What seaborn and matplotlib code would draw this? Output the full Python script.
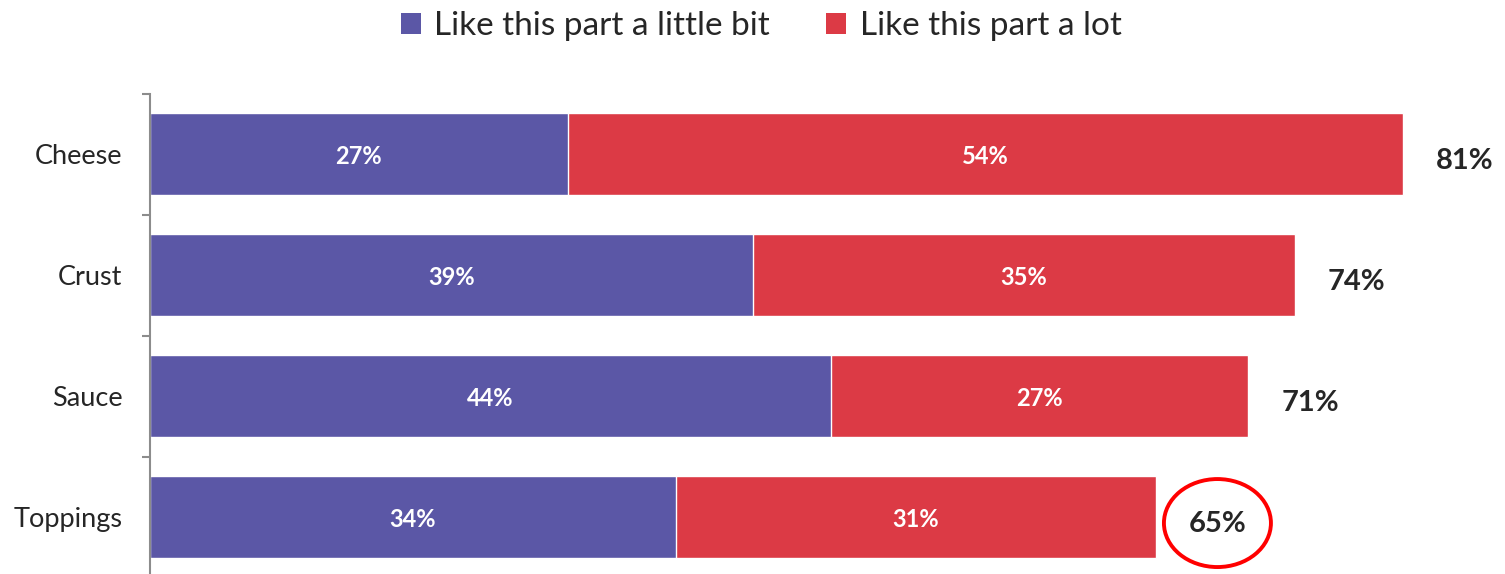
import matplotlib
matplotlib.use("Agg")
import matplotlib.pyplot as plt
from matplotlib.patches import Ellipse, Patch
import seaborn as sns
import pandas as pd

categories = ["Cheese", "Crust", "Sauce", "Toppings"]
little_bit = [27, 39, 44, 34]
a_lot = [54, 35, 27, 31]
totals = [81, 74, 71, 65]
series_names = ["Like this part a little bit", "Like this part a lot"]
highlight = "Toppings"

PURPLE = "#5B57A6"
RED = "#DC3A45"
TEXT = "#262626"

sns.set_theme(style="white")
plt.rcParams["font.family"] = ["Lato", "DejaVu Sans"]

df = pd.DataFrame({"category": categories, "little": little_bit,
                   "lot": a_lot, "total": totals})

fig = plt.figure(figsize=(15.05, 5.74), dpi=100)
ax = fig.add_axes([150 / 1505, -3.5 / 574, 1355 / 1505, 484 / 574])

# stacked bars: full total in red, "little bit" share drawn over it in purple
sns.barplot(data=df, x="total", y="category", order=categories, color=RED,
            saturation=1, width=0.67, orient="h", ax=ax)
sns.barplot(data=df, x="little", y="category", order=categories, color=PURPLE,
            saturation=1, width=0.67, orient="h", ax=ax)

ax.set_xlim(0, 1355 / 15.47)
ax.set_ylim(3.5, -0.5)
ax.set_xlabel("")
ax.set_ylabel("")
ax.set_xticks([])

for s in ["top", "right", "bottom"]:
    ax.spines[s].set_visible(False)
ax.spines["left"].set_color("#8C8C8C")
ax.spines["left"].set_linewidth(1.5)

ax.set_yticks(range(len(categories)))
ax.set_yticklabels(categories, fontsize=19.5, color=TEXT)
ax.tick_params(axis="y", which="major", length=0, pad=20)
ax.set_yticks([i - 0.5 for i in range(len(categories) + 1)], minor=True)
ax.tick_params(axis="y", which="minor", length=6, width=1.5,
               color="#8C8C8C", left=True)

for i, cat in enumerate(categories):
    lb, lt, tot = little_bit[i], a_lot[i], totals[i]
    ax.text(lb / 2, i + 0.02, f"{lb}%", ha="center", va="center", color="white",
            fontsize=17, fontweight="bold")
    ax.text(lb + lt / 2, i + 0.02, f"{lt}%", ha="center", va="center", color="white",
            fontsize=17, fontweight="bold")
    ax.text(tot + 4, i + 0.06, f"{tot}%", ha="center", va="center",
            color=TEXT, fontsize=21, fontweight="bold")
    if cat == highlight:
        ax.add_patch(Ellipse((tot + 4, i + 0.05), width=107 / 15.47,
                             height=88 / 121, fill=False, edgecolor="#FF0000",
                             linewidth=2.8, clip_on=False))

handles = [Patch(facecolor=PURPLE, edgecolor="none"),
           Patch(facecolor=RED, edgecolor="none")]
fig.legend(handles, series_names, loc="center", bbox_to_anchor=(761 / 1505, 1 - 26 / 574),
           ncol=2, frameon=False, fontsize=24, handlelength=0.6, handleheight=0.6,
           handletextpad=0.4, columnspacing=1.7, labelcolor=TEXT)

fig.savefig("out.png", dpi=100)
